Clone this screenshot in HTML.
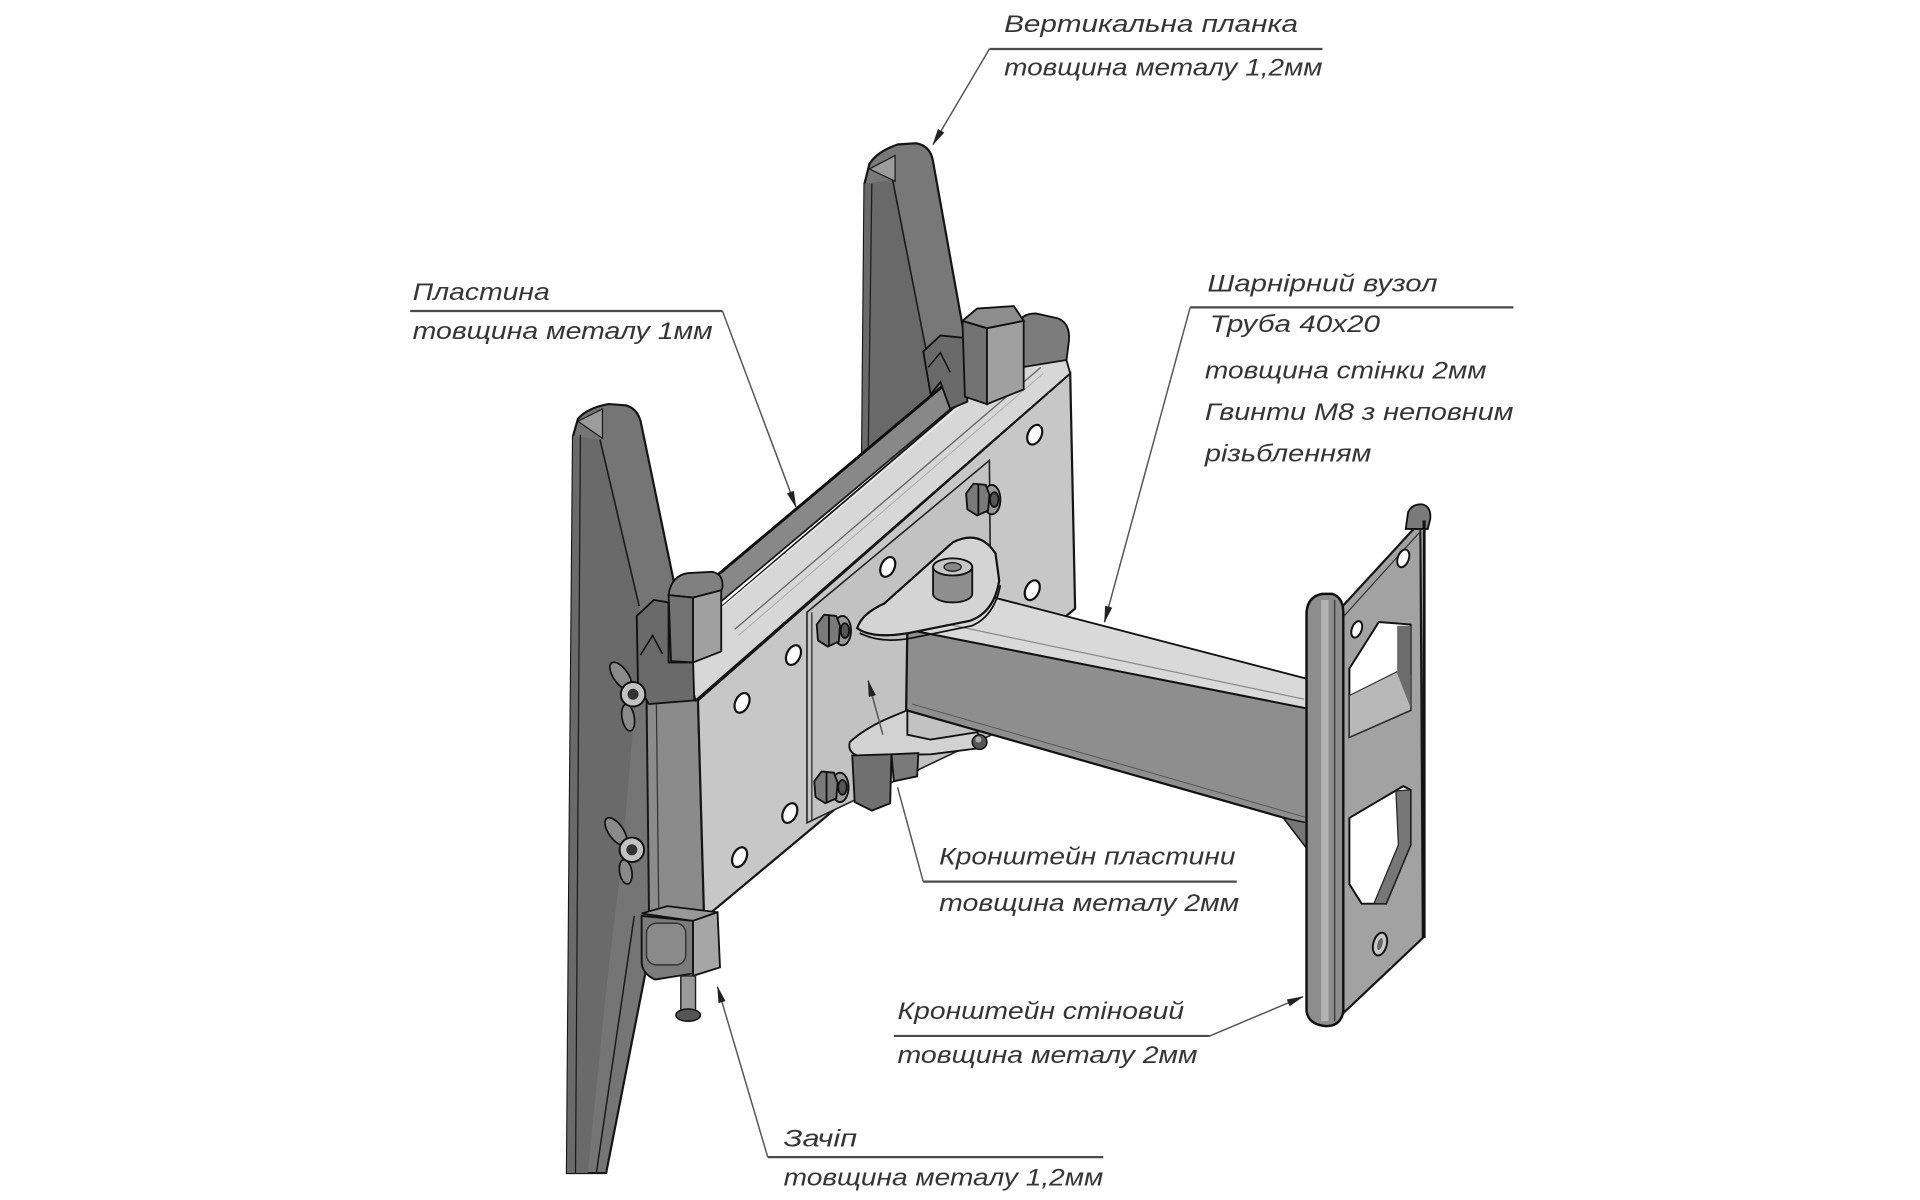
<!DOCTYPE html>
<html>
<head>
<meta charset="utf-8">
<style>
html,body{margin:0;padding:0;background:#ffffff;width:1920px;height:1200px;overflow:hidden}
svg{display:block}
text{font-family:"Liberation Sans","DejaVu Sans",sans-serif;font-style:italic;fill:#353535}
</style>
</head>
<body>
<svg width="1920" height="1200" viewBox="0 0 1568 980" preserveAspectRatio="none" xmlns="http://www.w3.org/2000/svg">
<defs>
<marker id="ah" markerWidth="14" markerHeight="8" refX="13" refY="4" orient="auto" markerUnits="userSpaceOnUse">
<path d="M0,1 L14,4 L0,7 Z" fill="#222"/>
</marker>
</defs>
<rect x="0" y="0" width="1568" height="980" fill="#ffffff"/>

<!-- Right vertical strip (upper) -->
<path d="M706,150 L710,134 Q716,124 733,118 L748,117 Q760,119 762,132 L790,288 L792,330 L704,374 Z" fill="#787878" stroke="#151515" stroke-width="1.8"/>
<polygon points="706,150 729,147 764,325 704,374" fill="#696969"/>
<line x1="729" y1="147" x2="764" y2="325" stroke="#1a1a1a" stroke-width="1.3"/>
<line x1="712" y1="150" x2="709" y2="372" stroke="#1a1a1a" stroke-width="1"/>
<polygon points="710,138 731,127 731,148" fill="#9c9c9c" stroke="#1a1a1a" stroke-width="1"/>

<!-- Left vertical strip -->
<path d="M468,356 L472,342 Q480,333 497,330 L511,331 Q522,334 524,348 L553,488 L562,620 L548,745 L528,790 L495,958 L463,958 L465,700 Z" fill="#757575" stroke="#151515" stroke-width="1.8"/>
<polygon points="468,356 490,359 522,495 520,560 508,700 496,800 480,958 463,958 465,700" fill="#6a6a6a"/>
<line x1="490" y1="359" x2="522" y2="495" stroke="#1a1a1a" stroke-width="1.3"/>
<line x1="474" y1="355" x2="470" y2="958" stroke="#1a1a1a" stroke-width="1"/>
<line x1="518" y1="748" x2="487" y2="958" stroke="#1a1a1a" stroke-width="1.2"/>
<polygon points="472,344 492,334 492,358" fill="#9c9c9c" stroke="#1a1a1a" stroke-width="1"/>

<!-- Wall plate (right bracket) -->
<polygon points="1090,502 1160,426 1162,766 1090,834" fill="#a2a2a2" stroke="#151515" stroke-width="1.8"/>
<line x1="1095" y1="506" x2="1160" y2="434" stroke="#333" stroke-width="1"/>
<path d="M1148,432 L1150,418 Q1154,411 1162,412 Q1169,414 1168,424 L1166,432 Z" fill="#7a7a7a" stroke="#111" stroke-width="1.5"/>
<line x1="1163" y1="425" x2="1163" y2="766" stroke="#111" stroke-width="2.5"/>
<!-- upper window -->
<polygon points="1102,546 1126,508 1152,510 1152,580 1102,602" fill="#ffffff" stroke="#111" stroke-width="1.6"/>
<polygon points="1102,568 1142,548 1152,552 1152,580 1102,602" fill="#b8b8b8" stroke="#333" stroke-width="1"/>
<polygon points="1141,511 1152,511 1152,578 1141,550" fill="#6c6c6c"/>
<!-- lower window -->
<polygon points="1102,668 1146,642 1152,645 1152,690 1132,738 1112,738 1102,722" fill="#ffffff" stroke="#111" stroke-width="1.6"/>
<polygon points="1140,646 1152,645 1152,690 1132,738 1122,738 1142,690" fill="#777777" stroke="#222" stroke-width="1"/>
<!-- holes -->
<ellipse cx="1146" cy="456" rx="4.5" ry="7.5" transform="rotate(20 1146 456)" fill="#ffffff" stroke="#111" stroke-width="1.6"/>
<ellipse cx="1108" cy="514" rx="4" ry="7" transform="rotate(20 1108 514)" fill="#ffffff" stroke="#111" stroke-width="1.6"/>
<ellipse cx="1127" cy="771" rx="5.5" ry="9.5" transform="rotate(15 1127 771)" fill="#c8c8c8" stroke="#111" stroke-width="1.6"/>
<ellipse cx="1127" cy="771" rx="2" ry="5" transform="rotate(15 1127 771)" fill="#666"/>

<!-- Plate side face -->
<polygon points="528,568 570,572 575,750 530,745" fill="#8b8b8b" stroke="#151515" stroke-width="1.6"/>
<line x1="536" y1="570" x2="538" y2="746" stroke="#333" stroke-width="1"/>
<!-- Plate front face -->
<polygon points="570,572 874,305 878,497 575,750" fill="#c7c7c7" stroke="#151515" stroke-width="1.8"/>
<!-- Bracket plate (front) -->
<polygon points="659,500 808,376 810,600 659,672" fill="#c2c2c2" stroke="#222" stroke-width="1.3"/>
<line x1="663" y1="500" x2="663" y2="670" stroke="#333" stroke-width="1.1"/>
<!-- Top band -->
<polygon points="556,524 862,262 874,305 568,572" fill="#d7d7d7" stroke="#151515" stroke-width="1.5"/>
<line x1="600" y1="514" x2="850" y2="300" stroke="#666" stroke-width="1.1"/>
<line x1="603" y1="519" x2="852" y2="305" stroke="#aaa" stroke-width="0.8"/>
<!-- Rail -->
<polygon points="582,473 800,290 800,314 582,497" fill="#888888" stroke="#151515" stroke-width="1.4"/>
<line x1="582" y1="473" x2="800" y2="290" stroke="#0e0e0e" stroke-width="2.4"/>
<line x1="585" y1="500" x2="800" y2="318" stroke="#eeeeee" stroke-width="1.2"/>

<!-- Upper right clamp -->
<path d="M832,266 Q833,256 846,256 L864,260 Q874,264 873,278 L871,294 L834,300 Z" fill="#7c7c7c" stroke="#111" stroke-width="1.5"/>
<polygon points="754,287 768,274 788,276 790,328 776,334 768,312 760,322" fill="#6a6a6a" stroke="#111" stroke-width="1.5"/>
<polyline points="758,300 768,288 776,304" fill="none" stroke="#111" stroke-width="1.2"/>
<polygon points="786,262 806,268 806,330 788,324" fill="#727272" stroke="#111" stroke-width="1.5"/>
<polygon points="806,268 836,262 836,318 806,330" fill="#a0a0a0" stroke="#111" stroke-width="1.5"/>
<polygon points="786,262 798,252 828,250 836,262 806,268" fill="#8d8d8d" stroke="#111" stroke-width="1.5"/>

<!-- Left upper clamp -->
<polygon points="520,503 534,490 546,492 546,541 566,541 567,572 530,575 521,560" fill="#6a6a6a" stroke="#111" stroke-width="1.5"/>
<polyline points="523,535 533,519 541,534" fill="none" stroke="#111" stroke-width="1.3"/>
<path d="M546,486 Q548,470 562,468 L582,467 Q591,469 590,480 L588,484 L566,488 Z" fill="#808080" stroke="#111" stroke-width="1.5"/>
<polygon points="546,486 566,488 566,541 548,540" fill="#727272" stroke="#111" stroke-width="1.5"/>
<polygon points="566,488 589,482 589,532 566,541" fill="#a0a0a0" stroke="#111" stroke-width="1.5"/>

<!-- Wing nuts -->
<ellipse cx="507" cy="552" rx="6" ry="13" transform="rotate(-35 507 552)" fill="#8a8a8a" stroke="#111" stroke-width="1.4"/>
<ellipse cx="513" cy="586" rx="5" ry="11" transform="rotate(-10 513 586)" fill="#8a8a8a" stroke="#111" stroke-width="1.4"/>
<circle cx="517" cy="567" r="10" fill="#c2c2c2" stroke="#111" stroke-width="1.6"/>
<circle cx="517" cy="567" r="4.5" fill="#333"/>
<ellipse cx="503" cy="679" rx="6" ry="13" transform="rotate(-35 503 679)" fill="#8a8a8a" stroke="#111" stroke-width="1.4"/>
<ellipse cx="511" cy="712" rx="5" ry="10" transform="rotate(-10 511 712)" fill="#8a8a8a" stroke="#111" stroke-width="1.4"/>
<circle cx="516" cy="694" r="10" fill="#c2c2c2" stroke="#111" stroke-width="1.6"/>
<circle cx="516" cy="694" r="4.5" fill="#333"/>

<!-- Plate holes -->
<g fill="#ffffff" stroke="#111" stroke-width="1.8">
<ellipse cx="845" cy="355" rx="5.5" ry="8.5" transform="rotate(25 845 355)"/>
<ellipse cx="843" cy="482" rx="5.5" ry="8.5" transform="rotate(25 843 482)"/>
<ellipse cx="725" cy="463" rx="5.5" ry="8.5" transform="rotate(25 725 463)"/>
<ellipse cx="648" cy="535" rx="5.5" ry="8.5" transform="rotate(25 648 535)"/>
<ellipse cx="606" cy="574" rx="5.5" ry="8.5" transform="rotate(25 606 574)"/>
<ellipse cx="645" cy="664" rx="5.5" ry="8.5" transform="rotate(25 645 664)"/>
<ellipse cx="604" cy="700" rx="5.5" ry="8.5" transform="rotate(25 604 700)"/>
</g>

<!-- Nuts -->
<g stroke="#111" stroke-width="1.5">
<ellipse cx="810" cy="408" rx="7" ry="12" fill="#9a9a9a"/>
<polygon points="789,403 795,395 805,396 808,404 807,417 798,421 790,416" fill="#7a7a7a"/>
<line x1="799" y1="396" x2="799" y2="421"/>
<ellipse cx="812" cy="408" rx="3.5" ry="6" fill="#555"/>

<ellipse cx="688" cy="515" rx="7" ry="12" fill="#9a9a9a"/>
<polygon points="667,510 673,502 683,503 686,511 685,524 676,528 668,523" fill="#7a7a7a"/>
<line x1="677" y1="503" x2="677" y2="528"/>
<ellipse cx="690" cy="515" rx="3.5" ry="6" fill="#555"/>
</g>

<!-- Tube -->
<polygon points="741,514 1070,579 1070,674 740,580" fill="#8e8e8e" stroke="#111" stroke-width="1.8"/>
<polygon points="760,498 808,487 1070,555 1070,579 741,514" fill="#d9d9d9" stroke="#111" stroke-width="1.5"/>
<line x1="770" y1="509" x2="1065" y2="571" stroke="#888" stroke-width="1"/>
<line x1="745" y1="575" x2="1068" y2="668" stroke="#555" stroke-width="0.8"/>
<polygon points="1048,668 1068,672 1068,694" fill="#777" stroke="#111" stroke-width="1.2"/>

<!-- Upper flange -->
<path d="M700,513 Q704,501 722,493 L778,443 Q800,432 813,452 L816,474 Q812,500 792,507 L742,517 Q712,522 700,513 Z" fill="#d4d4d4" stroke="#111" stroke-width="1.8"/>
<path d="M702,517 Q720,526 745,521 L794,511 Q812,503 817,478" fill="none" stroke="#111" stroke-width="1.4"/>
<!-- Bushing -->
<path d="M762,463 L762,485 A16,7 0 0 0 794,485 L794,463 Z" fill="#8e8e8e" stroke="#111" stroke-width="1.5"/>
<ellipse cx="778" cy="463" rx="16" ry="7" fill="#c6c6c6" stroke="#111" stroke-width="1.5"/>
<ellipse cx="778" cy="463" rx="7" ry="3.5" fill="#888" stroke="#111" stroke-width="1"/>

<!-- Lower flange & tabs -->
<path d="M694,606 Q705,596 722,588 L741,580 L741,600 L760,604 L798,598 Q803,603 800,611 L760,616 L700,617 Q692,614 694,606 Z" fill="#d2d2d2" stroke="#111" stroke-width="1.5"/>
<polygon points="696,617 728,616 727,656 712,662 698,655" fill="#707070" stroke="#111" stroke-width="1.5"/>
<polygon points="728,616 750,615 749,634 730,638" fill="#7a7a7a" stroke="#111" stroke-width="1.5"/>
<circle cx="800" cy="606" r="6" fill="#555" stroke="#111" stroke-width="1.2"/>
<circle cx="799" cy="604" r="2.5" fill="#aaa"/>

<!-- Lower nut -->
<g stroke="#111" stroke-width="1.5">
<ellipse cx="686" cy="643" rx="7" ry="12" fill="#9a9a9a"/>
<polygon points="665,638 671,630 681,631 684,639 683,652 674,656 666,651" fill="#7a7a7a"/>
<line x1="675" y1="631" x2="675" y2="656"/>
<ellipse cx="688" cy="643" rx="3.5" ry="6" fill="#555"/>
</g>

<!-- Front flange of wall bracket -->
<path d="M1067,500 Q1068,487 1080,485 L1088,485 Q1097,488 1097,500 L1097,826 Q1095,838 1083,838 Q1069,837 1067,826 Z" fill="#8d8d8d" stroke="#111" stroke-width="2"/>
<rect x="1079" y="490" width="6" height="344" fill="#b2b2b2"/>
<line x1="1090" y1="490" x2="1090" y2="834" stroke="#333" stroke-width="1"/>

<!-- Latch (Зачіп) -->
<polygon points="524,746 545,740 586,745 566,752" fill="#999" stroke="#111" stroke-width="1.4"/>
<path d="M524,748 L566,752 L566,795 L535,800 Q524,795 524,785 Z" fill="#7b7b7b" stroke="#111" stroke-width="1.5"/>
<rect x="528" y="754" width="32" height="34" rx="8" fill="#8a8a8a" stroke="#333" stroke-width="1.2"/>
<polygon points="566,752 586,745 588,790 566,797" fill="#a6a6a6" stroke="#111" stroke-width="1.5"/>
<rect x="556" y="797" width="12" height="31" fill="#9a9a9a" stroke="#222" stroke-width="1.2"/>
<ellipse cx="562" cy="829" rx="10" ry="5" fill="#555" stroke="#111" stroke-width="1.2"/>

<!-- Leaders and underlines -->
<g stroke="#4a4a4a" stroke-width="1.8" fill="none">
<line x1="808" y1="40" x2="1080" y2="40"/>
<line x1="335" y1="254" x2="590" y2="254"/>
<line x1="972" y1="251" x2="1236" y2="251"/>
<line x1="754" y1="720" x2="1010" y2="720"/>
<line x1="730" y1="846" x2="988" y2="846"/>
<line x1="627" y1="945" x2="901" y2="945"/>
</g>
<g stroke="#555" stroke-width="1.2" fill="none">
<line x1="808" y1="40" x2="762" y2="118" marker-end="url(#ah)"/>
<line x1="590" y1="254" x2="650" y2="414" marker-end="url(#ah)"/>
<line x1="972" y1="251" x2="902" y2="508" marker-end="url(#ah)"/>
<line x1="754" y1="720" x2="733" y2="643"/>
<line x1="721" y1="600" x2="709" y2="556" marker-end="url(#ah)"/>
<line x1="988" y1="846" x2="1064" y2="814" marker-end="url(#ah)"/>
<line x1="627" y1="945" x2="586" y2="806" marker-end="url(#ah)"/>
</g>

<!-- Labels -->
<g font-size="20">
<text x="820" y="26" textLength="240" lengthAdjust="spacingAndGlyphs">Вертикальна планка</text>
<text x="820" y="61.5" textLength="260" lengthAdjust="spacingAndGlyphs">товщина металу 1,2мм</text>
<text x="337" y="245" textLength="112" lengthAdjust="spacingAndGlyphs">Пластина</text>
<text x="337" y="277" textLength="245" lengthAdjust="spacingAndGlyphs">товщина металу 1мм</text>
<text x="986" y="238" textLength="188" lengthAdjust="spacingAndGlyphs">Шарнірний вузол</text>
<text x="988" y="271" textLength="139" lengthAdjust="spacingAndGlyphs">Труба 40х20</text>
<text x="984" y="309" textLength="230" lengthAdjust="spacingAndGlyphs">товщина стінки 2мм</text>
<text x="984" y="343" textLength="252" lengthAdjust="spacingAndGlyphs">Гвинти М8 з неповним</text>
<text x="984" y="377" textLength="136" lengthAdjust="spacingAndGlyphs">різьбленням</text>
<text x="767" y="706" textLength="242" lengthAdjust="spacingAndGlyphs">Кронштейн пластини</text>
<text x="767" y="744" textLength="245" lengthAdjust="spacingAndGlyphs">товщина металу 2мм</text>
<text x="733" y="832" textLength="234" lengthAdjust="spacingAndGlyphs">Кронштейн стіновий</text>
<text x="733" y="868" textLength="245" lengthAdjust="spacingAndGlyphs">товщина металу 2мм</text>
<text x="640" y="936.5" textLength="60" lengthAdjust="spacingAndGlyphs">Зачіп</text>
<text x="640" y="968" textLength="261" lengthAdjust="spacingAndGlyphs">товщина металу 1,2мм</text>
</g>
</svg>
</body>
</html>
